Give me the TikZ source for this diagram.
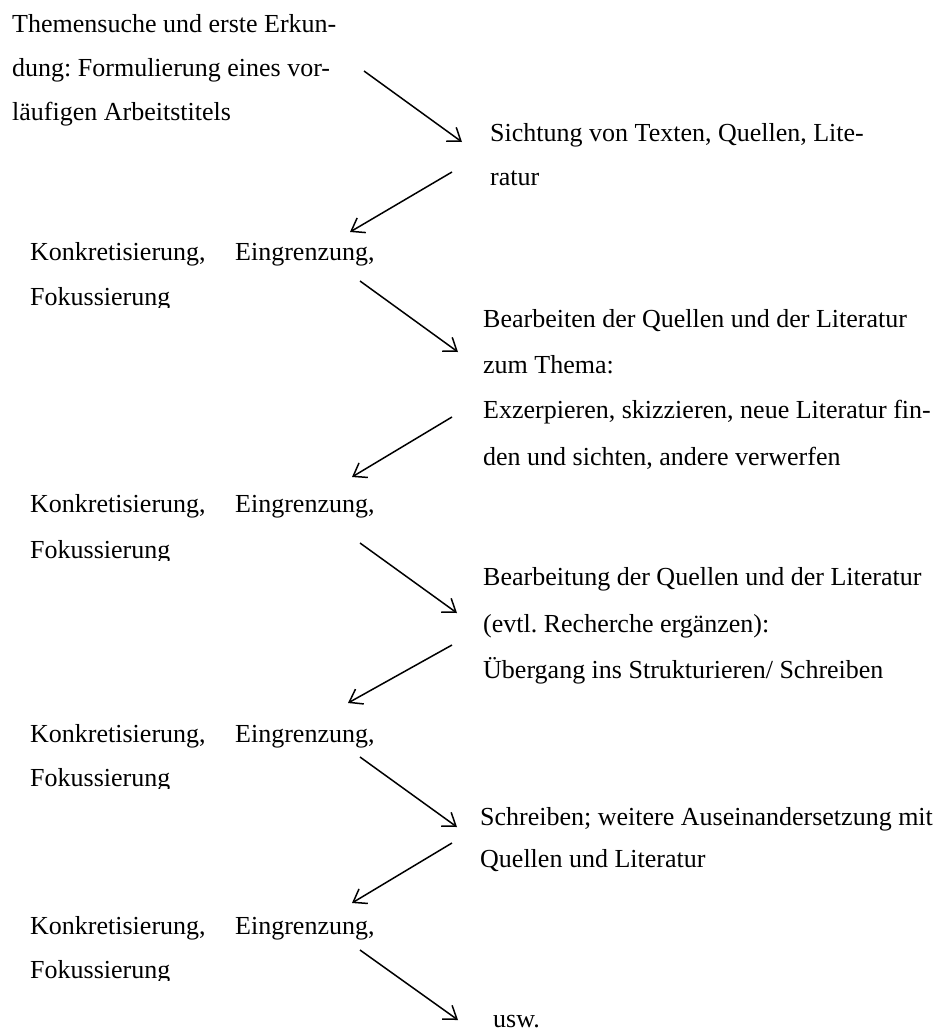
\documentclass[tikz,border=0pt]{standalone}
\usepackage{fontspec}
\setmainfont{Liberation Serif}
\usetikzlibrary{arrows.meta}
\frenchspacing
\newcommand\konkline{\makebox[205pt][l]{Konkretisierung,}Eingrenzung,}
\begin{document}
\begin{tikzpicture}[x=1pt,y=-1pt,
  txt/.style={anchor=base west,inner sep=0pt,font=\fontsize{26}{30}\selectfont\frenchspacing},
  flow/.style={line width=1.5pt,-{Straight Barb[length=12pt,width=17pt,line width=1.5pt]}}]
\useasboundingbox (0,0) rectangle (946,1031);

% block A
\node[txt] (a1) at (12,32) {Themensuche und erste Erkun-};
\node[txt] (a2) at (12,76) {dung: Formulierung eines vor-};
\node[txt] (a3) at (12,120) {läufigen Arbeitstitels};

% block B
\node[txt] (b1) at (490,141) {Sichtung von Texten, Quellen, Lite-};
\node[txt] (b2) at (490,185) {ratur};

% block C
\node[txt] (c1) at (30,260) {\konkline};
\begin{scope}
\clip (0,270) rectangle (300,307);
\node[txt] (c2) at (30,305) {Fokussierung};
\end{scope}

% block D
\node[txt] (d1) at (483,327) {Bearbeiten der Quellen und der Literatur};
\node[txt] (d2) at (483,373) {zum Thema:};
\node[txt] (d3) at (483,418) {Exzerpieren, skizzieren, neue Literatur fin-};
\node[txt] (d4) at (483,465) {den und sichten, andere verwerfen};

% block E
\node[txt] (e1) at (30,512) {\konkline};
\begin{scope}
\clip (0,522) rectangle (300,560);
\node[txt] (e2) at (30,558) {Fokussierung};
\end{scope}

% block F
\node[txt] (f1) at (483,585) {Bearbeitung der Quellen und der Literatur};
\node[txt] (f2) at (483,632) {(evtl. Recherche ergänzen):};
\node[txt] (f3) at (483,678) {Übergang ins Strukturieren/ Schreiben};

% block G
\node[txt] (g1) at (30,742) {\konkline};
\begin{scope}
\clip (0,752) rectangle (300,788);
\node[txt] (g2) at (30,786) {Fokussierung};
\end{scope}

% block H
\node[txt] (h1) at (480,825) {Schreiben; weitere Auseinandersetzung mit};
\node[txt] (h2) at (480,867) {Quellen und Literatur};

% block I
\node[txt] (i1) at (30,934) {\konkline};
\begin{scope}
\clip (0,944) rectangle (300,980);
\node[txt] (i2) at (30,978) {Fokussierung};
\end{scope}

\node[txt] (j1) at (493,1027) {usw.};

% arrow end points
\coordinate (p1s) at (364,71);  \coordinate (p1e) at (462,142);
\coordinate (p2s) at (452,172); \coordinate (p2e) at (350,232);
\coordinate (p3s) at (360,281); \coordinate (p3e) at (458,352);
\coordinate (p4s) at (452,417); \coordinate (p4e) at (352,477);
\coordinate (p5s) at (360,543); \coordinate (p5e) at (457,613);
\coordinate (p6s) at (452,645); \coordinate (p6e) at (348,703);
\coordinate (p7s) at (360,757); \coordinate (p7e) at (457,827);
\coordinate (p8s) at (452,843); \coordinate (p8e) at (352,903);
\coordinate (p9s) at (360,950); \coordinate (p9e) at (458,1020);

\draw[flow] (p1s) -- (p1e);
\draw[flow] (p2s) -- (p2e);
\draw[flow] (p3s) -- (p3e);
\draw[flow] (p4s) -- (p4e);
\draw[flow] (p5s) -- (p5e);
\draw[flow] (p6s) -- (p6e);
\draw[flow] (p7s) -- (p7e);
\draw[flow] (p8s) -- (p8e);
\draw[flow] (p9s) -- (p9e);
\end{tikzpicture}
\end{document}
